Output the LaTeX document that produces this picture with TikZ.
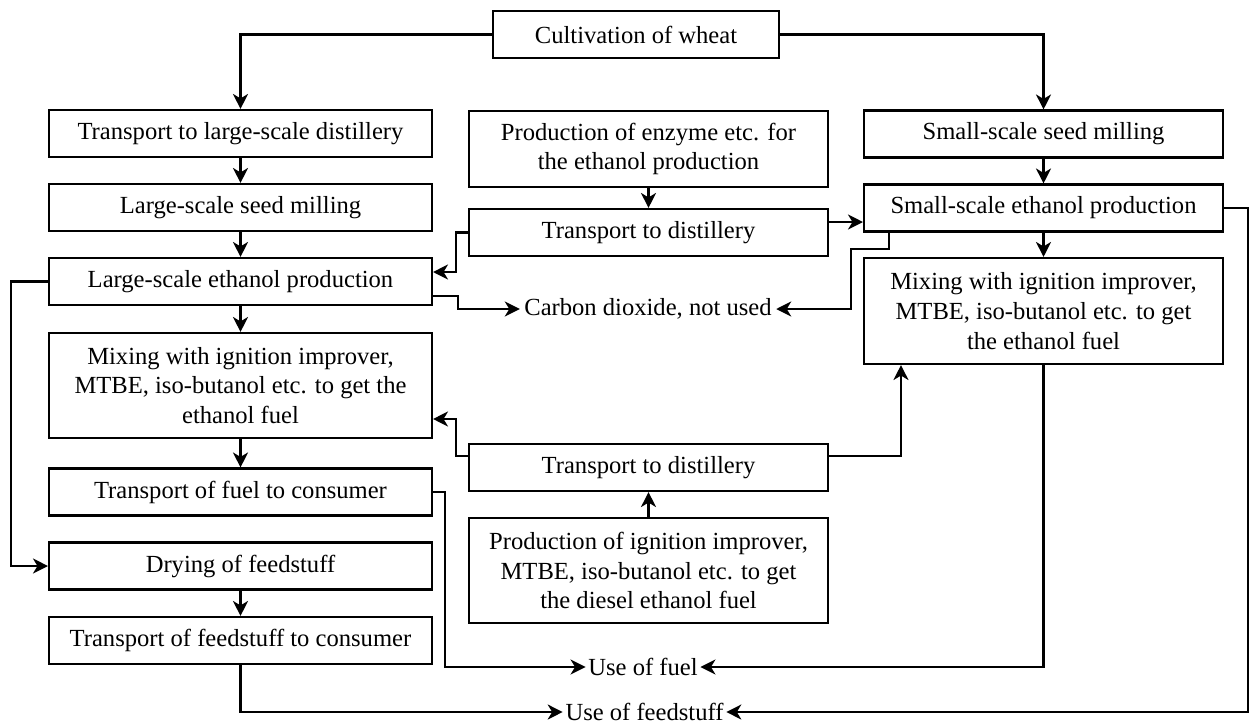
\documentclass[tikz,border=0pt]{standalone}
\usepackage{fontspec}
\setmainfont{Liberation Serif}
\usetikzlibrary{arrows.meta,positioning,calc}

\begin{document}
\begin{tikzpicture}[x=0.02cm, y=-0.02cm, line width=1.2pt,
    every node/.style={font=\fontsize{14}{17}\selectfont},
    box/.style={draw, align=center, inner sep=2pt, minimum height=0.94cm},
    arr/.style={-{Stealth[length=3mm,width=3mm,inset=0.9mm]}}]
    \useasboundingbox (0,0) rectangle (1250,724);

    % Top
    \node[box, minimum width=5.72cm] (cult) at (636,34.5) {Cultivation of wheat};

    % Large-scale line
    \node[box, minimum width=7.66cm] (tlsd) at (240.5,133.5) {Transport to large-scale distillery};
    \node[box, minimum width=7.66cm] (lsm) at (240.5,207.5) {Large-scale seed milling};
    \node[box, minimum width=7.66cm] (lep) at (240.5,281.5) {Large-scale ethanol production};
    \node[box, minimum width=7.66cm, minimum height=2.1cm] (mixL) at (240.5,385.5) {Mixing with ignition improver,\\ MTBE, iso-butanol etc. to get the\\ ethanol fuel};
    \node[box, minimum width=7.66cm] (tfc) at (240.5,492) {Transport of fuel to consumer};
    \node[box, minimum width=7.66cm] (dry) at (240.5,566) {Drying of feedstuff};
    \node[box, minimum width=7.66cm] (tfs) at (240.5,640.5) {Transport of feedstuff to consumer};

    % Middle column
    \node[box, minimum width=7.18cm, minimum height=1.52cm] (enz) at (648.5,149) {Production of enzyme etc. for\\ the ethanol production};
    \node[box, minimum width=7.18cm] (tdA) at (648.5,232.5) {Transport to distillery};
    \node[box, minimum width=7.18cm] (tdB) at (648.5,467.5) {Transport to distillery};
    \node[box, minimum width=7.18cm, minimum height=2.1cm] (ign) at (648.5,570.5) {Production of ignition improver,\\ MTBE, iso-butanol etc. to get\\ the diesel ethanol fuel};

    % Small-scale line
    \node[box, minimum width=7.18cm] (ssm) at (1043.5,134) {Small-scale seed milling};
    \node[box, minimum width=7.18cm] (sep) at (1043.5,208) {Small-scale ethanol production};
    \node[box, minimum width=7.18cm, minimum height=2.12cm] (mixR) at (1043.5,311) {Mixing with ignition improver,\\ MTBE, iso-butanol etc. to get\\ the ethanol fuel};

    % Outputs
    \node[inner sep=2pt] (co2) at (648,309) {Carbon dioxide, not used};
    \node[inner sep=1pt] (fuel) at (643,667) {Use of fuel};
    \node[inner sep=1pt] (feed) at (644.5,712) {Use of feedstuff};
    \coordinate (rgt) at (1248,400);

    % Arrows
    \draw[arr] (cult.west) -| (tlsd.north);
    \draw[arr] (cult.east) -| (ssm.north);
    \draw[arr] (tlsd) -- (lsm);
    \draw[arr] (lsm) -- (lep);
    \draw[arr] (lep) -- (mixL);
    \draw[arr] (mixL) -- (tfc);
    \draw[arr] (dry) -- (tfs);
    \draw[arr] (lep.west) -- ++(-37,0) |- (dry.west);
    \draw[arr] (enz) -- (tdA);
    \draw[arr] (tdA.west) -- ++(-12,0) |- ([yshift=0.19cm]lep.east);
    \draw[arr] ([yshift=-0.29cm]lep.east) -- ++(25,0) |- (co2.west);
    \coordinate (tdAr) at ([yshift=0.21cm]tdA.east);
    \draw[arr] (tdAr) -- (tdAr -| sep.west);
    \draw[arr] ([xshift=0.52cm]sep.south west) -- ++(0,16) -- ++(-38,0) |- (co2.east);
    \draw[arr] (ssm) -- (sep);
    \draw[arr] (sep) -- (mixR);
    \draw[arr] (sep.east) -| (rgt) |- (feed.east);
    \draw[arr] (mixR.south) |- (fuel.east);
    \draw[arr] (tfc.east) -- ++(12,0) |- (fuel.west);
    \draw[arr] (tfs.south) |- (feed.west);
    \draw[arr] ([yshift=0.23cm]tdB.west) -- ++(-12,0) |- ([yshift=-0.67cm]mixL.east);
    \draw[arr] ([yshift=0.23cm]tdB.east) -| ([xshift=0.76cm]mixR.south west);
    \draw[arr] (ign) -- (tdB);
\end{tikzpicture}
\end{document}
